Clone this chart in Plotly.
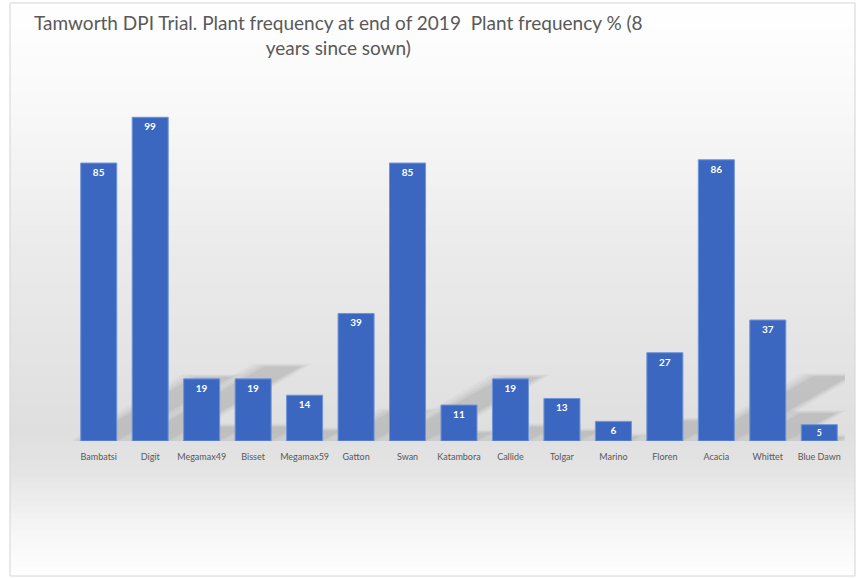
import plotly.graph_objects as go

categories = ["Bambatsi", "Digit", "Megamax49", "Bisset", "Megamax59", "Gatton", "Swan",
              "Katambora", "Callide", "Tolgar", "Marino", "Floren", "Acacia", "Whittet", "Blue Dawn"]
values = [85, 99, 19, 19, 14, 39, 85, 11, 19, 13, 6, 27, 86, 37, 5]
title_text = "Tamworth DPI Trial. Plant frequency at end of 2019  Plant frequency % (8<br>years since sown)"

W, H = 857, 578
L, R, T, B = 73, 12, 114, 137
FONT = "Lato"

xpos = list(range(len(categories)))

fig = go.Figure()
fig.add_trace(go.Bar(
    x=xpos, y=values, width=0.70,
    marker=dict(color="#3b67c1", line=dict(color="#6f95d8", width=1)),
    text=[str(v) for v in values], textposition="inside", insidetextanchor="end",
    textfont=dict(family=FONT, size=10, color="white", weight="bold"),
    textangle=0, cliponaxis=False, hoverinfo="skip",
))

shapes = []
# background gradient (paper coords)
keys = [(3, 255), (100, 249), (250, 235), (430, 223), (470, 228), (530, 246), (575, 254)]
def shade(py):
    for (a, ca), (b, cb) in zip(keys, keys[1:]):
        if a <= py <= b:
            t = (py - a) / (b - a)
            return int(round(ca + (cb - ca) * t))
    return 255
ph = H - T - B
def py2paper(py):
    return (H - B - py) / ph
def px2paper(px):
    return (px - L) / (W - L - R)
step = 6
py = 3
while py < 575:
    py2 = min(py + step, 575)
    c = shade((py + py2) / 2)
    shapes.append(dict(type="rect", xref="paper", yref="paper", layer="below",
                       x0=px2paper(10), x1=px2paper(855), y0=py2paper(py2), y1=py2paper(py),
                       fillcolor=f"rgb({c},{c},{c})", line=dict(width=0)))
    py = py2
# frame
shapes.append(dict(type="rect", xref="paper", yref="paper", layer="below",
                   x0=px2paper(10), x1=px2paper(855), y0=py2paper(576), y1=py2paper(3),
                   fillcolor="rgba(0,0,0,0)", line=dict(color="#d4d4d4", width=1)))
# soft perspective shadows derived from bar values
for i, v in zip(xpos, values):
    hv = 0.23 * v
    dx = 0.026 * v
    for grow, alpha in [(0.22, 0.05), (0.14, 0.06), (0.07, 0.07), (0.0, 0.09)]:
        x0 = i - 0.35 - grow
        x1 = i + 0.35 + grow
        top = hv + grow * 4
        path = (f"M {x0},0 L {x1},0 L {x1 + dx},{top} L {x0 + dx},{top} Z")
        shapes.append(dict(type="path", xref="x", yref="y", layer="below", path=path,
                           fillcolor=f"rgba(100,100,100,{alpha})", line=dict(width=0)))

fig.update_layout(
    width=W, height=H,
    margin=dict(l=L, r=R, t=T, b=B),
    paper_bgcolor="white", plot_bgcolor="rgba(0,0,0,0)",
    showlegend=False, bargap=0.3,
    shapes=shapes,
    xaxis=dict(range=[-0.5, len(categories) - 0.5], tickvals=xpos, ticktext=categories,
               showgrid=False, zeroline=False, showline=False, ticks="",
               ticklabelstandoff=9,
               tickfont=dict(family=FONT, size=9, color="#595959"), fixedrange=True),
    yaxis=dict(range=[0, 100], visible=False, fixedrange=True),
    annotations=[dict(text=title_text, xref="paper", yref="paper",
                      x=px2paper(338), y=py2paper(9), xanchor="center", yanchor="top",
                      showarrow=False, align="center",
                      font=dict(family=FONT, size=19, color="#595959"))],
)
fig.write_html("out.html")
